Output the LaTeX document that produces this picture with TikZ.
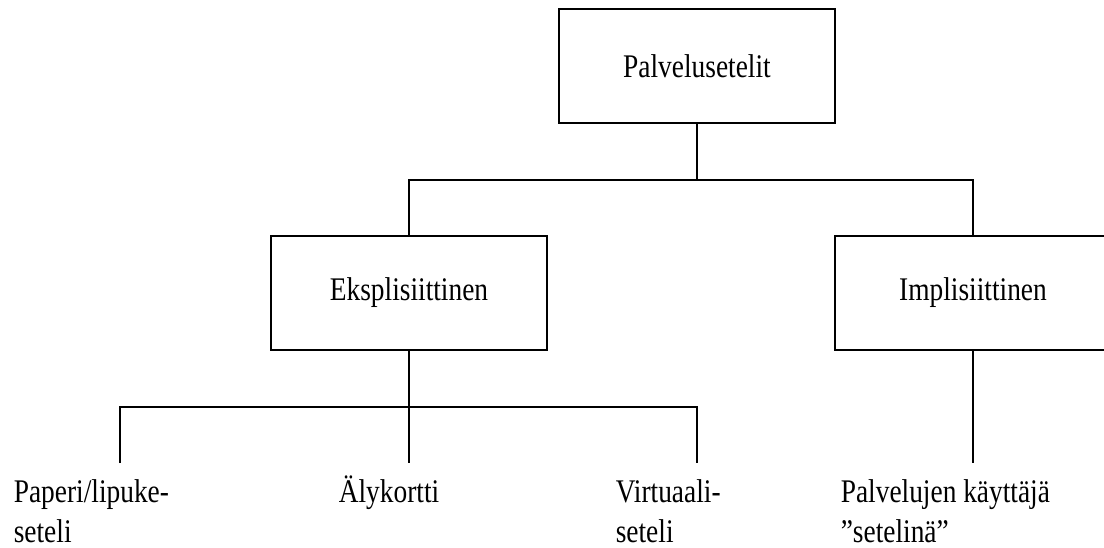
\documentclass[tikz,border=0pt]{standalone}
\usepackage{fontspec}
\setmainfont{Liberation Serif}[FakeStretch=0.83]
\begin{document}
\begin{tikzpicture}[x=1pt,y=-1pt,
  line width=1.6pt,
  every node/.style={font=\fontsize{33}{40}\selectfont},
  box/.style={draw, line width=1.6pt, minimum width=276pt, minimum height=114pt, inner sep=0pt},
  leaf/.style={anchor=base west, inner sep=0pt},
  link/.style={draw, line width=1.6pt}]
\useasboundingbox (0,0) rectangle (1104,548);
\clip (0,0) rectangle (1104,548);

% boxes
\node[box] (root) at (697,66) {Palvelusetelit};
\node[box] (eks) at (409,293) {Eksplisiittinen};
\node[box] (imp) at (973,293) {Implisiittinen};

% leaf labels
\node[leaf] (pap1) at (13,502) {Paperi/lipuke-};
\node[leaf] (pap2) at (13,542) {seteli};
\node[leaf] (aly) at (338,502) {Älykortti};
\node[leaf] (vir1) at (615,502) {Virtuaali-};
\node[leaf] (vir2) at (615,542) {seteli};
\node[leaf] (kay1) at (840,502) {Palvelujen käyttäjä};
\node[leaf] (kay2) at (840,542) {”setelinä”};

% branch points
\coordinate (j1) at (697,180);
\coordinate (j2) at (409,407);
\coordinate (e1) at (120,463);
\coordinate (e2) at (409,463);
\coordinate (e3) at (697,463);
\coordinate (e4) at (973,463);

% connectors
\path[link] (root.south) -- (j1);
\path[link] (eks.north) |- (j1) -| (imp.north);
\path[link] (eks.south) -- (j2);
\path[link] (e1) |- (j2) -| (e3);
\path[link] (j2) -- (e2);
\path[link] (imp.south) -- (e4);
\end{tikzpicture}
\end{document}
